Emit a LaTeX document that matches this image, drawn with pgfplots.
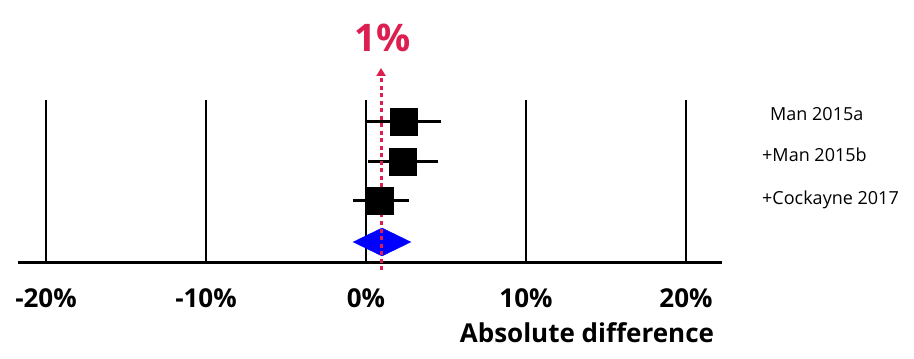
\documentclass[border=0pt]{standalone}
\usepackage{fontspec}
\setmainfont{Open Sans}
\usepackage{pgfplots}
\pgfplotsset{compat=1.18}
\usetikzlibrary{arrows.meta}
\definecolor{crim}{HTML}{DC1E50}
\begin{document}
\begin{tikzpicture}
\begin{axis}[
  scale only axis, width=704pt, height=162pt,
  xmin=-21.75, xmax=22.25, ymin=0, ymax=162,
  clip=false,
  axis x line*=bottom, axis y line=none,
  ytick=\empty,
  xtick={-20,-10,0,10,20},
  xticklabels={-20\%,-10\%,0\%,10\%,20\%},
  major tick length=0pt,
  xmajorgrids=true,
  major grid style={black, line width=2.7pt},
  axis line style={black, line width=3pt},
  xticklabel style={font=\fontsize{26}{30}\selectfont\bfseries, inner sep=0pt, anchor=north, yshift=-26pt},
  xlabel={Absolute difference},
  xlabel style={font=\fontsize{26}{30}\selectfont\bfseries, inner sep=0pt, at={(rel axis cs:0.989,0)}, anchor=north east, yshift=-60pt},
]
\coordinate (bl) at (axis cs:-21.75,0);
% study estimates with confidence intervals
\addplot[only marks, mark=square*, mark size=13.5pt, black,
  error bars/.cd, x dir=both, x explicit, error mark=none,
  error bar style={line width=3pt, black}]
  coordinates {
    (2.375,140) += (2.31,0) -= (2.31,0)
    (2.31,100)  += (2.19,0) -= (2.19,0)
    (0.875,61)  += (1.81,0) -= (1.69,0)
  };
% pooled diamond
\addplot[fill=blue, draw=blue] coordinates {(-0.8,20) (1.0,34) (2.8,20) (1.0,6) (-0.8,20)} -- cycle;
% 1% reference line
\addplot[crim, line width=3pt, dash pattern=on 4pt off 3.5pt,
  -{Triangle[width=9pt,length=8pt]}] coordinates {(0.94,-8) (0.94,194)};
\node[text=crim, font=\fontsize{38}{44}\selectfont\bfseries, inner sep=0pt] at (axis cs:1.05,224) {1\%};
\node[anchor=west, font=\fontsize{18}{22}\selectfont, inner sep=0pt] at (axis cs:25.25,148) {Man 2015a};
\node[anchor=west, font=\fontsize{18}{22}\selectfont, inner sep=0pt] at (axis cs:24.75,107) {+Man 2015b};
\node[anchor=west, font=\fontsize{18}{22}\selectfont, inner sep=0pt] at (axis cs:24.75,62) {+Cockayne 2017};
\end{axis}
\pgfresetboundingbox
\path[use as bounding box] (bl) ++(-18pt,-97pt) rectangle ++(914pt,359pt);
\end{tikzpicture}
\end{document}
